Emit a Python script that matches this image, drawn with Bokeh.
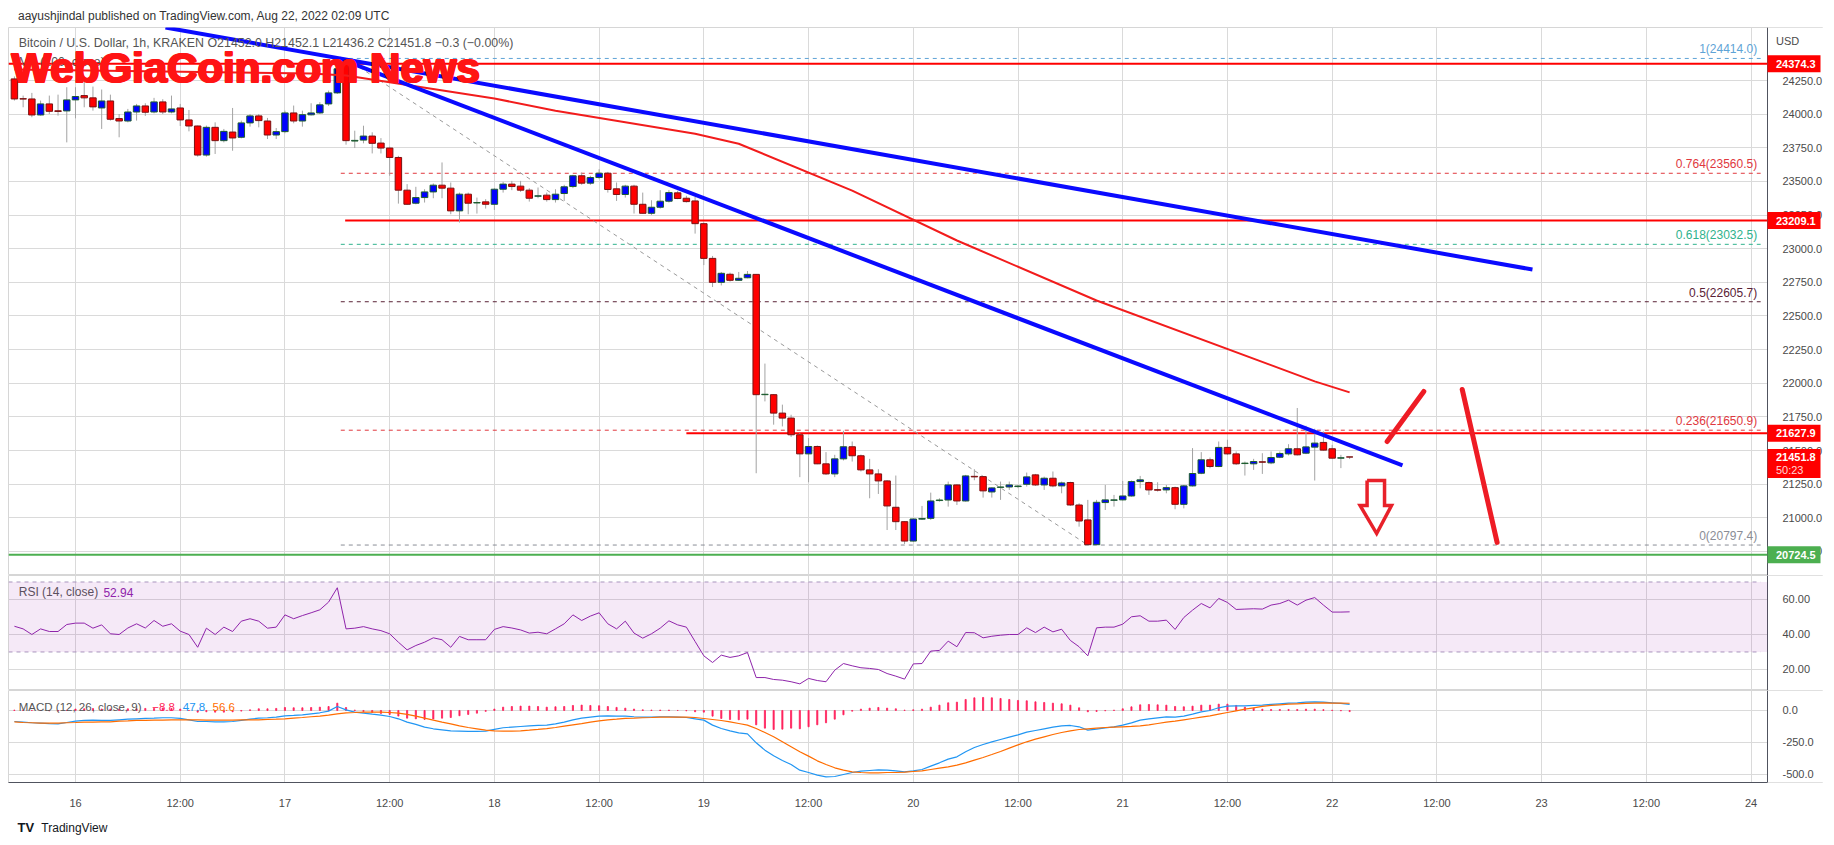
from bokeh.plotting import figure
from bokeh.layouts import column
from bokeh.models import Range1d, FixedTicker, Grid, BoxAnnotation, PrintfTickFormatter
from bokeh.core.properties import value
from bokeh.embed import file_html
from bokeh.resources import INLINE

# ---------------- data ----------------
# hours since Aug 16 2022 00:00 UTC (1h candles, Bitcoin / U.S. Dollar, KRAKEN)
hours = list(range(-7, 147))
opens = [24262,24115,24113,23994,24076,24025,24024,24106,24138,24121,
 24046,24098,23967,23949,24016,24061,24016,24091,24016,24046,
 23957,23912,23696,23902,23803,23867,23828,23935,23987,23949,
 23845,23870,24009,23949,23995,24009,24076,24158,24387,23800,
 23807,23837,23785,23748,23678,23435,23338,23380,23422,23472,
 23450,23281,23405,23340,23348,23330,23442,23480,23465,23435,
 23390,23398,23365,23410,23462,23542,23487,23529,23561,23445,
 23403,23465,23330,23263,23308,23353,23415,23375,23355,23186,
 22928,22750,22810,22765,22784,22809,21915,21915,21778,21741,
 21617,21475,21530,21401,21326,21438,21528,21461,21356,21326,
 21274,21078,20971,20827,20990,20996,21128,21132,21244,21125,
 21308,21306,21192,21226,21229,21232,21249,21319,21244,21294,
 21237,21262,21095,20984,20800,21113,21130,21133,21162,21269,
 21262,21209,21207,21224,21100,21237,21331,21431,21381,21523,
 21475,21403,21401,21416,21408,21450,21475,21513,21480,21525,
 21560,21513,21443,21452.0]
highs = [24280,24138,24158,24101,24138,24145,24200,24200,24250,24205,
 24183,24145,24001,24039,24076,24081,24121,24111,24138,24076,
 24031,23915,23915,23939,23890,24046,23952,24001,24001,23972,
 23897,24026,24064,24026,24081,24089,24175,24399,24414,23877,
 23914,23865,23822,23758,23690,23480,23460,23442,23485,23641,
 23492,23417,23417,23380,23368,23450,23497,23504,23504,23450,
 23455,23417,23442,23475,23549,23566,23542,23591,23571,23492,
 23475,23475,23417,23360,23435,23435,23430,23393,23385,23194,
 22946,22827,22822,22827,22834,22812,22146,21920,21841,21766,
 21629,21592,21537,21488,21468,21647,21567,21470,21438,21361,
 21280,21314,20975,20995,21088,21187,21145,21269,21250,21319,
 21361,21310,21227,21269,21269,21244,21336,21326,21306,21344,
 21269,21268,21108,21133,21133,21244,21170,21274,21277,21311,
 21269,21264,21244,21232,21244,21518,21488,21448,21567,21580,
 21493,21418,21438,21480,21493,21493,21547,21816,21684,21662,
 21642,21542,21468,21452.1]
lows = [24101,24051,23977,23989,24001,23989,23790,23969,24051,24026,
 23890,23952,23828,23939,23952,23987,24006,24001,24006,23912,
 23872,23684,23684,23704,23790,23728,23820,23907,23902,23815,
 23815,23858,23932,23907,23990,24001,24061,24150,23773,23748,
 23783,23708,23708,23542,23335,23326,23330,23343,23375,23375,
 23256,23194,23256,23261,23298,23288,23417,23435,23422,23350,
 23375,23350,23343,23355,23450,23475,23475,23517,23417,23355,
 23380,23261,23261,23251,23298,23343,23368,23343,23112,22878,
 22715,22727,22755,22760,22780,21331,21865,21692,21679,21600,
 21302,21264,21398,21319,21302,21426,21418,21344,21145,21177,
 20909,20909,20805,20822,20984,20984,21120,21083,21095,21120,
 21279,21150,21150,21133,21207,21220,21232,21237,21207,21227,
 21182,21088,20934,20797.4,20800,21058,21083,21128,21157,21219,
 21170,21195,21182,21063,21070,21232,21324,21368,21376,21468,
 21393,21314,21356,21326,21398,21443,21463,21463,21473,21277,
 21498,21438,21369,21436.2]
closes = [24113,24112,23994,24076,24021,24020,24106,24131,24121,24054,
 24098,23962,23949,24016,24061,24014,24091,24016,24039,23957,
 23912,23696,23902,23803,23872,23823,23935,23987,23952,23845,
 23870,24009,23949,23996,24009,24069,24158,24337,23803,23805,
 23837,23783,23748,23678,23435,23330,23380,23422,23472,23450,
 23281,23405,23338,23343,23330,23442,23480,23462,23435,23375,
 23393,23365,23405,23460,23542,23487,23529,23561,23440,23403,
 23465,23330,23263,23308,23353,23417,23373,23350,23186,22928,
 22750,22817,22765,22780,22809,21915,21918,21778,21741,21617,
 21475,21530,21401,21326,21438,21528,21461,21356,21326,21274,
 21088,20971,20827,20991,20994,21125,21132,21244,21125,21311,
 21304,21200,21222,21229,21244,21236,21304,21244,21294,21237,
 21259,21095,20976,20800,21115,21133,21133,21162,21269,21282,
 21207,21205,21224,21100,21237,21329,21431,21381,21523,21475,
 21401,21406,21418,21413,21448,21478,21513,21468,21527,21555,
 21503,21443,21446,21451.8]

rsi_values = [44.7,43.2,40.0,43.2,41.7,41.7,45.7,46.5,46.5,43.6,
 45.5,40.4,40.0,43.7,46.1,43.7,48.0,44.7,46.1,41.9,
 40.0,32.7,43.6,40.0,44.2,41.7,47.6,49.0,47.6,43.6,
 44.2,51.2,49.0,50.8,52.4,54.1,58.5,66.7,43.2,43.6,
 44.5,43.2,42.2,40.4,35.6,31.2,33.7,35.6,38.1,37.0,
 32.7,38.9,37.0,37.0,37.0,42.9,44.5,43.7,42.6,40.8,
 41.3,40.4,43.2,46.1,51.2,48.0,50.5,52.4,46.1,43.2,
 47.6,40.8,37.9,40.4,43.6,47.8,45.5,44.2,36.0,27.8,
 24.0,28.2,26.9,27.8,29.7,15.4,15.4,14.3,13.9,13.0,
 11.8,14.9,13.7,13.0,19.6,23.4,22.1,21.0,20.6,20.0,
 17.7,16.2,14.5,23.2,23.4,30.5,30.9,36.2,33.0,41.1,
 41.0,38.1,39.0,39.6,40.0,40.0,43.8,41.1,44.2,41.5,
 43.0,36.6,33.0,27.8,43.8,44.2,44.2,45.9,50.1,50.7,
 47.6,47.6,48.2,42.9,49.7,53.9,57.7,55.2,60.6,58.3,
 54.3,54.5,54.7,54.5,56.8,57.7,59.6,56.8,59.6,61.1,
 56.8,52.8,52.8,52.94]

macd_line = [-86,-91,-96,-99,-102,-104,-94,-83,-78,-76,
 -78,-78,-73,-68,-65,-62,-60,-57,-57,-62,
 -73,-86,-86,-89,-89,-86,-78,-68,-60,-57,
 -52,-42,-39,-34,-26,-18,-5,31,5,-13,
 -21,-29,-36,-47,-65,-91,-109,-130,-143,-151,
 -159,-161,-164,-164,-161,-148,-135,-130,-125,-120,
 -117,-115,-104,-91,-73,-60,-52,-44,-42,-44,
 -44,-49,-52,-52,-49,-49,-52,-55,-65,-75.5,
 -114.5,-140.5,-158.8,-174.4,-182.2,-252.5,-309.8,-354,-390.5,-421.7,
 -466,-484.3,-505,-518,-515.5,-499.9,-484.3,-473.9,-468.7,-463.5,
 -466,-471.3,-479,-471.3,-460.8,-434.8,-408.8,-380.1,-361.9,-322.8,
 -289,-265.5,-244.7,-226.5,-208.2,-190,-169.2,-156.2,-143.2,-130.1,
 -119.7,-117.1,-127.5,-153.5,-145.7,-135.3,-127.5,-114.5,-96.3,-75.5,
 -65.1,-57.3,-49.5,-52,-44.2,-28.6,-10.4,0,20.9,33.9,
 36.5,36.5,39.1,41.7,46.9,52.1,57.3,59.9,65.1,67.7,
 65.1,59.9,54.7,47.8]
macd_signal = [-89,-94,-96,-99,-99,-99,-96,-94,-91,-91,
 -89,-89,-83,-81,-78,-78,-76,-76,-73,-73,
 -73,-73,-76,-76,-76,-76,-73,-73,-73,-70,
 -68,-65,-60,-55,-49,-44,-36,-26,-18,-16,
 -13,-13,-13,-16,-21,-31,-44,-60,-76,-91,
 -104,-120,-133,-143,-154,-159,-161,-161,-159,-154,
 -148,-141,-133,-122,-112,-102,-91,-81,-73,-68,
 -62,-60,-57,-55,-52,-52,-52,-52,-55,-62.5,
 -70.3,-78.1,-88.5,-101.5,-114.5,-140.5,-171.8,-205.6,-244.7,-283.8,
 -322.8,-356.7,-393.2,-421.7,-447.8,-466,-479,-484.3,-486.9,-486.9,
 -484.3,-484.3,-481.7,-476.5,-471.3,-460.8,-450.4,-440,-427,-408.8,
 -388,-367.1,-343.7,-320.2,-294.2,-268.2,-244.7,-223.9,-205.6,-187.5,
 -171.8,-158.8,-148.4,-143.2,-138,-132.8,-130.1,-127.5,-124.9,-119.7,
 -111.9,-101.5,-91.1,-83.3,-72.9,-62.5,-52.1,-41.7,-28.6,-15.6,
 -2.6,10.4,20.9,31.3,39.1,44.3,49.5,52.1,54.7,57.3,
 58.6,58.0,57.3,56.6]
macd_hist = [round(m - s, 1) for m, s in zip(macd_line, macd_signal)]

# 100-period moving average, read at a few candles
sma_hours = [-7, 27, 31, 48, 55, 71, 76, 89, 101, 117, 142, 146]
sma_values = [24332, 24302, 24287, 24116, 24026, 23855, 23780, 23432, 23061, 22615, 22014, 21932]

fib_ratios = ["1", "0.764", "0.618", "0.5", "0.236", "0"]
fib_prices = [24414.0, 23560.5, 23032.5, 22605.7, 21650.9, 20797.4]
fib_colors = ["#5ea3d6", "#e0383e", "#2fb28c", "#5a2236", "#e0383e", "#8a8d96"]

hlines_full = [24374.3, 20724.5]
hline_full_colors = ["#ff0000", "#4caf50"]
resist_prices = [23209.1, 21627.9]
resist_start_h = [30.9, 70.0]

trend_a_h = [30.25, 152.06]
trend_a_p = [24413.5, 21389]
trend_b_h = [10.31, 166.95]
trend_b_p = [24644, 22845]

tag_prices = [24374.3, 23209.1, 21627.9, 20724.5]
tag_colors = ["#ff0000", "#ff0000", "#ff0000", "#4caf50"]
last_price = 21451.8
countdown = "50:23"

time_ticks = list(range(0, 193, 12))
time_labels = ["16", "12:00", "17", "12:00", "18", "12:00", "19", "12:00", "20", "12:00",
               "21", "12:00", "22", "12:00", "23", "12:00", "24"]
price_ticks = list(range(20750, 24251, 250))
rsi_ticks = [20, 40, 60]
macd_ticks = [-500, -250, 0]

# ---------------- styling ----------------
FONT = "Liberation Sans"
X0 = -7.677      # left edge of the panes
AX = 193.88      # position of the price scale line
XE = 200.30      # right edge of the price-scale column
GRID = "#dadada"
AXIS = "#50535e"
LBL = "#4a4a4a"
xr = Range1d(X0, XE)
TAG_CX = 196.92
TAG_TX = 194.85
PX = 7.432       # price units per pixel in the main pane


def make_pane(frame_h, y0, y1, yticks, fmt, bottom=0, xaxis=False):
    p = figure(frame_width=1815, frame_height=frame_h, x_range=xr, y_range=Range1d(y0, y1),
               x_axis_type="linear" if xaxis else None, y_axis_location="right",
               output_backend="svg", toolbar_location=None,
               min_border_left=8, min_border_right=0, min_border_top=0, min_border_bottom=bottom,
               outline_line_color="#d6d6d6", background_fill_color="white", border_fill_color="white")
    yt = FixedTicker(ticks=yticks)
    p.yaxis.ticker = yt
    p.yaxis.fixed_location = AX
    p.ygrid.ticker = yt
    p.ygrid.grid_line_color = GRID
    p.yaxis.formatter = PrintfTickFormatter(format=fmt)
    p.yaxis.major_tick_line_color = None
    p.yaxis.minor_tick_line_color = None
    p.yaxis.axis_line_color = AXIS
    p.yaxis.major_label_text_font = FONT
    p.yaxis.major_label_text_font_size = "11px"
    p.yaxis.major_label_text_color = LBL
    p.yaxis.major_label_standoff = 9
    xt = FixedTicker(ticks=time_ticks)
    if xaxis:
        p.xaxis.ticker = xt
        p.xaxis.bounds = (X0, AX)
        p.xgrid.ticker = xt
        p.xgrid.grid_line_color = GRID
        p.xaxis.major_label_overrides = {t: l for t, l in zip(time_ticks, time_labels)}
        p.xaxis.major_tick_line_color = None
        p.xaxis.minor_tick_line_color = None
        p.xaxis.axis_line_color = AXIS
        p.xaxis.major_label_text_font = FONT
        p.xaxis.major_label_text_font_size = "11px"
        p.xaxis.major_label_text_color = LBL
        p.xaxis.major_label_standoff = 8
    else:
        p.add_layout(Grid(dimension=0, ticker=xt, grid_line_color=GRID))
    # blank price-scale column (hides the grid there)
    p.quad(left=[AX], right=[XE], bottom=[y0], top=[y1], fill_color="white", line_color=None)
    return p


# ---------------- header ----------------
hdr = figure(width=1823, height=27, x_range=Range1d(0, 1823), y_range=Range1d(0, 27),
             x_axis_type=None, y_axis_type=None, min_border=0, outline_line_color=None,
             toolbar_location=None, output_backend="svg")
hdr.text(x=[9.5], y=[12], text=["aayushjindal published on TradingView.com, Aug 22, 2022 02:09 UTC"],
         text_font=value(FONT), text_font_size="12px", text_color="#333333", text_baseline="middle")

# ---------------- main price pane ----------------
main = make_pane(548, 20571, 24644, price_ticks, "%.1f")

for lv, col in zip(hlines_full, hline_full_colors):
    main.segment(x0=[X0], y0=[lv], x1=[AX], y1=[lv], line_color=col, line_width=2)
main.segment(x0=resist_start_h, y0=resist_prices, x1=[AX] * 2, y1=resist_prices,
             line_color="#ff0000", line_width=2)

# fibonacci levels
main.segment(x0=[30.4] * 6, y0=fib_prices, x1=[193.1] * 6, y1=fib_prices,
             line_color=fib_colors, line_width=1, line_dash="4 4")
main.text(x=[192.7] * 6, y=fib_prices,
          text=[f"{r}({v:.1f})" for r, v in zip(fib_ratios, fib_prices)],
          text_color=fib_colors, text_align="right", text_baseline="bottom", y_offset=-2,
          text_font=value(FONT), text_font_size="12px")
main.line(x=[31, 116], y=[24414.0, 20797.4], line_color="#9a9a9a", line_width=1, line_dash="4 4")

# candles
up = [c >= o for o, c in zip(opens, closes)]
main.segment(x0=hours, y0=lows, x1=hours, y1=highs, line_color="#a3a3a3", line_width=1)
main.vbar(x=hours, width=0.74,
          top=[max(o, c) for o, c in zip(opens, closes)],
          bottom=[min(o, c) for o, c in zip(opens, closes)],
          fill_color=["#0000ff" if u else "#ff0000" for u in up],
          line_color=["#1d5e2c" if u else "#7a1212" for u in up], line_width=1)

# moving average
main.line(x=sma_hours, y=sma_values, line_color="#f21c1c", line_width=2)

# trendlines
main.line(x=trend_a_h, y=trend_a_p, line_color="#0a0aff", line_width=4)
main.line(x=trend_b_h, y=trend_b_p, line_color="#0a0aff", line_width=4)

# hand-drawn scenario strokes
main.line(x=[150.3, 154.5], y=[21567, 21939], line_color="#ee1c25", line_width=5, line_cap="round")
main.line(x=[158.9, 162.9], y=[21954, 20817], line_color="#ee1c25", line_width=5, line_cap="round")
arrow_h = [148.0, 150.0, 150.0, 150.8, 149.1, 147.2, 148.0, 148.0]
arrow_p = [21277, 21277, 21091, 21091, 20883, 21091, 21091, 21277]
main.line(x=arrow_h, y=arrow_p, line_color="#e8212a", line_width=3.5, line_join="miter")

# legend text
main.text(x=[-6.5], y=[24532],
          text=["Bitcoin / U.S. Dollar, 1h, KRAKEN  O21452.0  H21452.1  L21436.2  C21451.8  \u22120.3 (\u22120.00%)"],
          text_font=value(FONT), text_font_size="12.4px", text_color="#555555", text_baseline="middle")
main.text(x=[-6.5], y=[24385], text=["MA (100, close)"],
          text_font=value(FONT), text_font_size="12.4px", text_color="#555555", text_baseline="middle")

# watermark
for dx, dy in ((0, 0), (1.0, 0), (2.0, 0), (0, -1.0), (1.0, -1.0), (2.0, -1.0)):
    main.text(x=[-7.45], y=[24339], x_offset=dx, y_offset=dy, text=["WebGiaCoin.com News"],
              text_font=value(FONT), text_font_style="bold",
              text_font_size="42px", text_color="#ff1414", text_baseline="alphabetic")

# price scale tags
main.text(x=[TAG_TX], y=[24547], text=["USD"], text_font=value(FONT), text_font_size="11px",
          text_color=LBL, text_baseline="middle")
main.rect(x=[TAG_CX] * 4, y=tag_prices, width=53, height=17, width_units="screen", height_units="screen",
          fill_color=tag_colors, line_color=None, level="overlay")
main.text(x=[TAG_TX] * 4, y=tag_prices, text=[f"{v:.1f}" for v in tag_prices], text_color="white",
          text_font=value(FONT), text_font_size="11px", text_font_style="bold",
          text_baseline="middle", level="overlay")
main.rect(x=[TAG_CX], y=[last_price - 6.5 * PX], width=53, height=29, width_units="screen",
          height_units="screen", fill_color="#ff0000", line_color=None, level="overlay")
main.text(x=[TAG_TX], y=[last_price], text=[f"{last_price:.1f}"], text_color="white",
          text_font=value(FONT), text_font_size="11px", text_font_style="bold",
          text_baseline="middle", level="overlay")
main.text(x=[TAG_TX], y=[last_price], y_offset=13.5, text=[countdown], text_color="#ffd6d6",
          text_font=value(FONT), text_font_size="11px", text_baseline="middle", level="overlay")

# ---------------- RSI pane ----------------
rsi = make_pane(115, 8.0, 73.7, rsi_ticks, "%.2f")
rsi.add_layout(BoxAnnotation(left=X0, right=AX, bottom=30, top=70, fill_color="#9c27b0",
                             fill_alpha=0.1, line_color=None))
rsi.segment(x0=[X0, X0], y0=[70, 30], x1=[193.1, 193.1], y1=[70, 30], line_color="#a99bbd",
            line_dash="4 4", line_width=1)
rsi.line(x=hours, y=rsi_values, line_color="#8e24aa", line_width=1)
rsi.text(x=[-6.5], y=[64], text=["RSI (14, close)"], text_font=value(FONT), text_font_size="12px",
         text_color="#555555", text_baseline="middle")
rsi.text(x=[3.2], y=[64], text=["52.94"], text_font=value(FONT), text_font_size="12px",
         text_color="#8e24aa", text_baseline="middle")

# ---------------- MACD pane ----------------
macd = make_pane(92, -562.5, 156, macd_ticks, "%.1f", bottom=28, xaxis=True)
macd.vbar(x=hours, width=0.13, top=[max(h, 0) for h in macd_hist], bottom=[min(h, 0) for h in macd_hist],
          fill_color="#ff1f5a", line_color="#ff1f5a", line_width=0.8)
macd.line(x=hours, y=macd_line, line_color="#2196f3", line_width=1.2)
macd.line(x=hours, y=macd_signal, line_color="#ff6d00", line_width=1.2)
macd.text(x=[-6.5], y=[31], text=["MACD (12, 26, close, 9)"], text_font=value(FONT), text_font_size="11.5px",
          text_color="#555555", text_baseline="middle")
macd.text(x=[8.8, 12.3, 15.7], y=[31] * 3, text=["\u22128.8", "47.8", "56.6"],
          text_color=["#ff1f5a", "#2196f3", "#ff6d00"], text_font=value(FONT), text_font_size="11.5px",
          text_baseline="middle")

# ---------------- footer ----------------
ftr = figure(width=1823, height=30, x_range=Range1d(0, 1823), y_range=Range1d(0, 30),
             x_axis_type=None, y_axis_type=None, min_border=0, outline_line_color=None,
             toolbar_location=None, output_backend="svg")
ftr.text(x=[9], y=[14], text=["TV"], text_font=value(FONT), text_font_style="bold",
         text_font_size="13px", text_color="#131722", text_baseline="middle")
ftr.text(x=[33], y=[14], text=["TradingView"], text_font=value(FONT),
         text_font_size="12px", text_color="#131722", text_baseline="middle")

layout = column(hdr, main, rsi, macd, ftr, spacing=0)
open("out.html", "w").write(file_html(layout, INLINE))
